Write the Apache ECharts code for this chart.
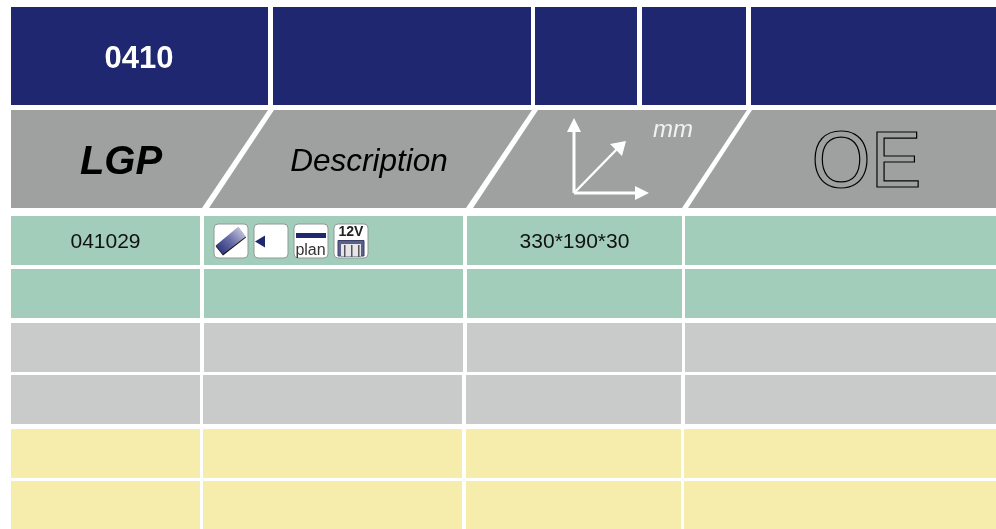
<!DOCTYPE html>
<html>
<head>
<meta charset="utf-8">
<style>html,body{margin:0;padding:0;background:#fff}#c{width:996px;height:529px}</style>
<script src="https://cdn.jsdelivr.net/npm/echarts@6/dist/echarts.min.js"></script>
</head>
<body>
<div id="c"></div>
<script>
// ---- content ----
const titleRow = ['0410', '', '', '', ''];
const headerRow = ['LGP', 'Description', '', 'OE'];
const dimensionUnit = 'mm';
const lgpCodes = ['041029', '', '', '', '', ''];
const descriptionIcons = [['wedge', 'left', 'plan', '12V'], [], [], [], [], []];
const dimensions = ['330*190*30', '', '', '', '', ''];
const oeCodes = ['', '', '', '', '', ''];
const rowBands = ['teal', 'teal', 'grey', 'grey', 'yellow', 'yellow'];

// ---- layout and style ----
const FONT = '"Liberation Sans", Arial, sans-serif';
const colours = {
  navy: '#1e276f', head: '#9fa1a0', teal: '#a3cdbb', grey: '#c9cbca', yellow: '#f6edad'
};
const titleX = [[11, 268], [273, 531], [535, 637], [642, 746], [751, 996]];
const titleY = [7, 105];
const headerY = [110, 208];
const headerEdges = [[[11, 11], [268, 202]], [[274, 209], [532, 466]], [[538, 473], [747, 682]], [[752, 688], [996, 996]]];
const rowY = [[216, 265], [269, 318], [323, 372], [375, 424], [429, 478], [481, 529]];
const rowX = [
  [[11, 200], [204, 463], [467, 682], [685, 996]],
  [[11, 200], [204, 463], [467, 682], [685, 996]],
  [[11, 200], [204, 463], [467, 682], [685, 996]],
  [[11, 200], [203, 462], [466, 681], [685, 996]],
  [[11, 200], [203, 462], [466, 681], [684, 996]],
  [[11, 200], [203, 462], [466, 681], [684, 996]]
];
const iconX = [214, 254, 294, 334];
const iconW = 34, iconTop = 224, iconH = 34;

function txt(api, x, y, text, font, fill, extra) {
  const p = api.coord([x, y]);
  return { type: 'text', x: p[0], y: p[1],
    style: Object.assign({ text, font, fill, align: 'center', verticalAlign: 'middle' }, extra || {}) };
}
function poly(api, pts, style) {
  return { type: 'polygon', shape: { points: pts.map(q => api.coord(q)) }, style };
}
function rect(api, x0, y0, x1, y1, style, r) {
  const a = api.coord([x0, y0]), b = api.coord([x1, y1]);
  return { type: 'rect', shape: { x: a[0], y: a[1], width: b[0] - a[0], height: b[1] - a[1], r: r || 0 }, style };
}
function line(api, a, b, w) {
  const p = api.coord(a), q = api.coord(b);
  return { type: 'line', shape: { x1: p[0], y1: p[1], x2: q[0], y2: q[1] }, style: { stroke: '#fff', lineWidth: w } };
}

function renderTitle(params, api) {
  const i = api.value(0), c = titleX[i];
  const kids = [rect(api, c[0], titleY[0], c[1], titleY[1], { fill: colours.navy })];
  if (titleRow[i]) kids.push(txt(api, (c[0] + c[1]) / 2 - 0.5, 59.5, titleRow[i], 'bold 31px ' + FONT, '#fff'));
  return { type: 'group', children: kids };
}
function renderHeader(params, api) {
  const i = api.value(0), e = headerEdges[i];
  const kids = [poly(api, [[e[0][0], headerY[0]], [e[1][0], headerY[0]], [e[1][1], headerY[1]], [e[0][1], headerY[1]]], { fill: colours.head })];
  if (i === 0) kids.push(txt(api, 121, 162.5, headerRow[0], 'italic bold 40px ' + FONT, '#000'));
  if (i === 1) kids.push(txt(api, 369, 162, headerRow[1], 'italic 31.5px ' + FONT, '#000'));
  if (i === 2) {
    kids.push(line(api, [574, 193], [574, 128], 3), line(api, [574, 193], [638, 193], 3), line(api, [574, 193], [618, 148], 2.4));
    kids.push(poly(api, [[574, 118], [567, 132], [581, 132]], { fill: '#fff' }));
    kids.push(poly(api, [[649, 193], [635, 186], [635, 200]], { fill: '#fff' }));
    kids.push(poly(api, [[626, 141], [610, 144], [622, 156]], { fill: '#fff' }));
    kids.push(txt(api, 673, 130.5, dimensionUnit, 'italic 24px ' + FONT, '#f2f2f2'));
  }
  if (i === 3) {
    const oe = txt(api, 866.5, 165.5, headerRow[3], '76px ' + FONT, 'none', { stroke: '#000', lineWidth: 1.2 });
    oe.scaleY = 1.04;
    kids.push(oe);
  }
  return { type: 'group', children: kids };
}
function iconShape(api, kind, x) {
  const base = rect(api, x, iconTop, x + iconW, iconTop + iconH, { fill: '#fff', stroke: '#8f9a95', lineWidth: 1 }, 4);
  const kids = [base];
  if (kind === 'wedge') {
    kids.push(poly(api, [[x + 1.7, 246.5], [x + 24.5, 227.5], [x + 32, 237.5], [x + 9, 255.5]], { fill: '#111' }));
    const g = { type: 'linear', x: 0, y: 1, x2: 1, y2: 0, colorStops: [{ offset: 0, color: '#1e276f' }, { offset: 0.5, color: '#6a6fa8' }, { offset: 1, color: '#dcdbec' }] };
    kids.push(poly(api, [[x + 1.7, 245.5], [x + 24.3, 226.8], [x + 31.8, 236.5], [x + 8.8, 254.3]], { fill: g }));
  } else if (kind === 'left') {
    kids.push(poly(api, [[x + 1, 241.5], [x + 11, 235.5], [x + 11, 247.5]], { fill: '#1e276f' }));
  } else if (kind === 'plan') {
    kids.push(rect(api, x + 2, 233, x + 32, 238, { fill: '#1e276f' }));
    kids.push(txt(api, x + 16.5, 250.5, 'plan', '16px ' + FONT, '#333'));
  } else if (kind === '12V') {
    kids.push(txt(api, x + 17, 232.5, '12V', 'bold 14px ' + FONT, '#222'));
    kids.push(rect(api, x + 4, 240.5, x + 30, 256, { fill: '#5a5f8c', stroke: '#3a3f66', lineWidth: 1 }));
    kids.push(rect(api, x + 7, 244, x + 27, 256, { fill: '#e4e4ea' }));
    [10, 17, 24].forEach(dx => kids.push(rect(api, x + dx, 245, x + dx + 1.5, 257, { fill: '#555' })));
  }
  return kids;
}
function renderRow(params, api) {
  const r = api.value(0), xs = rowX[r], ys = rowY[r], fill = colours[rowBands[r]];
  const kids = xs.map(c => rect(api, c[0], ys[0], c[1], ys[1], { fill }));
  const mid = (ys[0] + ys[1]) / 2;
  if (lgpCodes[r]) kids.push(txt(api, 105.5, mid + 1.5, lgpCodes[r], '21px ' + FONT, '#111'));
  descriptionIcons[r].forEach((k, j) => iconShape(api, k, iconX[j]).forEach(s => kids.push(s)));
  if (dimensions[r]) kids.push(txt(api, 574.5, mid + 1.5, dimensions[r], '21px ' + FONT, '#111'));
  if (oeCodes[r]) kids.push(txt(api, 840, mid + 1.5, oeCodes[r], '21px ' + FONT, '#111'));
  return { type: 'group', children: kids };
}

const chart = echarts.init(document.getElementById('c'), null, { renderer: 'canvas' });
chart.setOption({
  animation: false,
  backgroundColor: '#fff',
  tooltip: { show: false },
  grid: { left: 0, right: 0, top: 0, bottom: 0 },
  xAxis: { type: 'value', min: 0, max: 996, show: false },
  yAxis: { type: 'value', min: 0, max: 529, inverse: true, show: false },
  series: [
    { type: 'custom', coordinateSystem: 'cartesian2d', renderItem: renderTitle, silent: true, clip: false,
      encode: { x: 0, y: 0 }, data: titleRow.map((t, i) => [i]) },
    { type: 'custom', coordinateSystem: 'cartesian2d', renderItem: renderHeader, silent: true, clip: false,
      encode: { x: 0, y: 0 }, data: headerRow.map((t, i) => [i]) },
    { type: 'custom', coordinateSystem: 'cartesian2d', renderItem: renderRow, silent: true, clip: false,
      encode: { x: 0, y: 0 }, data: lgpCodes.map((t, i) => [i]) }
  ]
});
</script>
</body>
</html>
